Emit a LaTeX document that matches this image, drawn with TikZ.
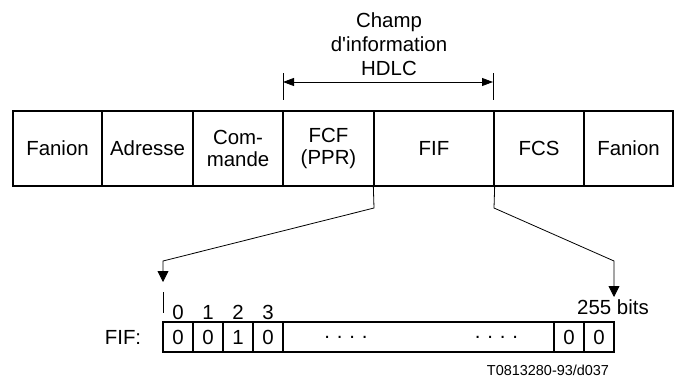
\documentclass[tikz,border=0pt]{standalone}
\usepackage{fontspec}
\setmainfont{Liberation Sans}[Ligatures=TeXOff]
\usetikzlibrary{arrows.meta}
\begin{document}
\begin{tikzpicture}[x=1bp,y=-1bp,
  every node/.style={font=\fontsize{20.5}{22}\selectfont, inner sep=0pt},
  cell/.style={draw, line width=1.3bp, minimum height=75bp, align=center},
  bit/.style={draw, line width=1.3bp, minimum height=30bp},
  conn/.style={line width=0.8bp},
  tip/.style={-{Triangle[length=11bp,width=11bp]}},
  dtip/.style={{Triangle[length=11bp,width=8bp]}-{Triangle[length=11bp,width=8bp]}}]
\useasboundingbox (0,0) rectangle (676,383);
% top frame
\node[cell, minimum width=89bp] (f1) at (57.5,148.5) {Fanion};
\node[cell, minimum width=91bp] (ad) at (147.5,148.5) {Adresse};
\node[cell, minimum width=90bp] (cm) at (238,148.5) {Com-\\mande};
\node[cell, minimum width=91bp] (fcf) at (328.5,148.5) {FCF\\(PPR)};
\node[cell, minimum width=120bp] (fif) at (434,148.5) {FIF};
\node[cell, minimum width=90bp] (fcs) at (539,148.5) {FCS};
\node[cell, minimum width=89bp] (f2) at (628.5,148.5) {Fanion};
% HDLC information field
\node[align=center, font=\fontsize{20.5}{24}\selectfont] (hd) at (389,44) {Champ\\d'information\\HDLC};
\coordinate (la) at (283,73);
\coordinate (lb) at (283,100);
\coordinate (ra) at (493,73);
\coordinate (rb) at (493,100);
\draw[conn] (la) -- (lb);
\draw[conn] (ra) -- (rb);
\draw[conn, dtip] (283,82) -- (493,82);
% bit field
\node[bit, minimum width=30bp] (b0) at (178,337) {0};
\node[bit, minimum width=30bp] (b1) at (208,337) {0};
\node[bit, minimum width=30bp] (b2) at (238,337) {1};
\node[bit, minimum width=30bp] (b3) at (268,337) {0};
\node[bit, minimum width=271bp] (bm) at (418.5,337) {};
\node[bit, minimum width=30bp] (b254) at (569,337) {0};
\node[bit, minimum width=30bp] (b255) at (599,337) {0};
\node (d1) at (346,337) {.\,\,.\,\,.\,\,.};
\node (d2) at (496.5,337) {.\,\,.\,\,.\,\,.};
\node (lab) at (123,337) {FIF:};
\node (n0) at (178,312) {0};
\node (n1) at (208,312) {1};
\node (n2) at (238,312) {2};
\node (n3) at (268,312) {3};
\node (n255) at (613,307) {255 bits};
\node[font=\fontsize{14.5}{16}\selectfont] (ref) at (548,370) {T0813280-93/d037};
% connectors
\coordinate (l1) at (374,208);
\coordinate (l2) at (163,261);
\coordinate (l3) at (163,282);
\coordinate (r1) at (494,208);
\coordinate (r2) at (614,261);
\coordinate (r3) at (614,297);
\draw[conn, tip] (fif.south west) -- (l1) -- (l2) -- (l3);
\draw[conn, tip] (fif.south east) -- (r1) -- (r2) -- (r3);
\coordinate (t1) at (163,292);
\coordinate (t2) at (163,313);
\draw[conn] (t1) -- (t2);
\end{tikzpicture}
\end{document}
